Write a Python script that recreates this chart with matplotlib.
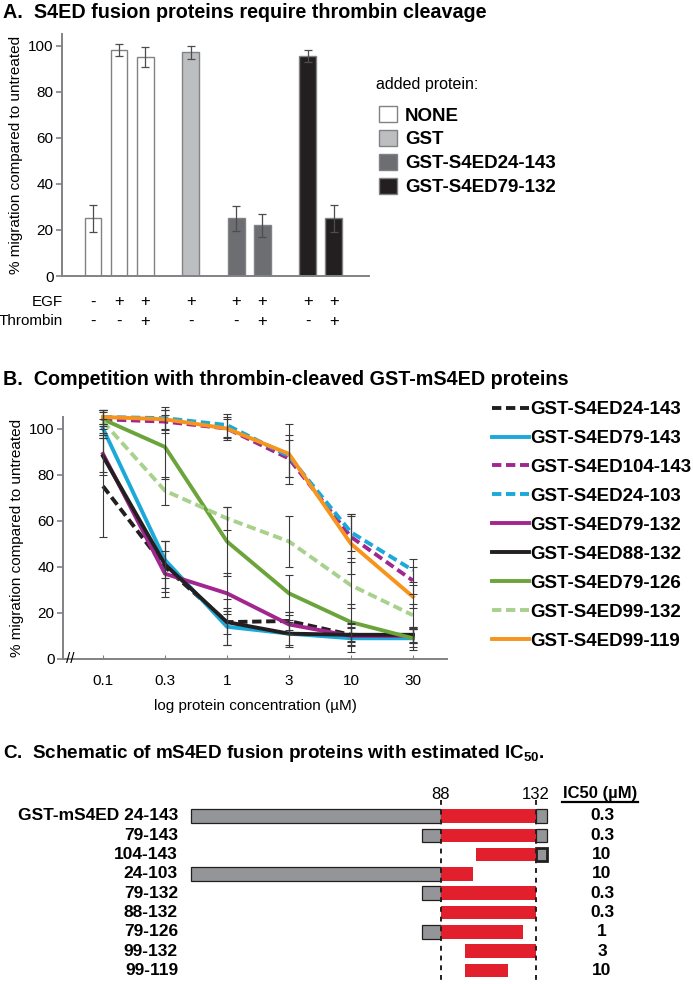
import matplotlib.pyplot as plt
import numpy as np
from matplotlib.patches import Patch
from matplotlib.transforms import blended_transform_factory

plt.rcParams['font.family'] = ['Liberation Sans', 'DejaVu Sans']
plt.rcParams['mathtext.fontset'] = 'custom'
plt.rcParams['mathtext.rm'] = 'Liberation Sans'
plt.rcParams['mathtext.bf'] = 'Liberation Sans:bold'

# ---- panel A data ----
a_values = [25, 98, 95, 97, 25, 22, 95.5, 25]
a_errors = [6, 2.5, 4.5, 3, 5.5, 5, 2.5, 6]
a_groups = ['NONE', 'NONE', 'NONE', 'GST', 'GST-S4ED24-143', 'GST-S4ED24-143',
            'GST-S4ED79-132', 'GST-S4ED79-132']
a_egf = ['-', '+', '+', '+', '+', '+', '+', '+']
a_thrombin = ['-', '-', '+', '-', '-', '+', '-', '+']
a_proteins = ['NONE', 'GST', 'GST-S4ED24-143', 'GST-S4ED79-132']
a_colors = ['white', '#bcbec0', '#6d6e71', '#231f20']

# ---- panel B data ----
conc_labels = ['0.1', '0.3', '1', '3', '10', '30']
b_names = ['GST-S4ED24-143', 'GST-S4ED79-143', 'GST-S4ED104-143', 'GST-S4ED24-103',
           'GST-S4ED79-132', 'GST-S4ED88-132', 'GST-S4ED79-126', 'GST-S4ED99-132',
           'GST-S4ED99-119']
b_values = [
    [75, 40, 16, 16.5, 10.5, 10],
    [100, 43, 14, 11, 9, 9],
    [104, 103, 100, 87, 53, 34],
    [105, 104.5, 101.5, 88, 55, 38.5],
    [89, 37, 28.5, 15, 10, 10],
    [88, 41, 16, 11, 10.5, 10.5],
    [104, 92, 51, 28.5, 16, 9],
    [103, 73, 61, 51, 32, 19],
    [105, 104, 100, 89, 50, 27],
]
b_errors = [
    [22, 11, 5, 4, 3, 3],
    [4, 8, 8, 6, 6, 4],
    [3, 5, 4, 8, 9, 6],
    [3, 5, 5, 9, 8, 5],
    [8, 10, 9, 4, 4, 3],
    [8, 10, 10, 5, 5, 3],
    [4, 14, 15, 8, 8, 5],
    [5, 6, 5, 11, 10, 5],
    [3, 4, 5, 13, 13, 5],
]
b_colors = ['#231f20', '#1ba9d9', '#a1278f', '#1ba9d9', '#a1278f', '#231f20',
            '#6ba43a', '#a9d18e', '#f7941d']
b_dashed = [True, False, True, True, False, False, False, True, False]

# ---- panel C data ----
c_labels = ['GST-mS4ED 24-143', '79-143', '104-143', '24-103', '79-132',
            '88-132', '79-126', '99-132', '99-119']
c_start = [24, 79, 104, 24, 79, 88, 79, 99, 99]
c_end = [143, 143, 143, 103, 132, 132, 126, 132, 119]
c_ic50 = ['0.3', '0.3', '10', '10', '0.3', '0.3', '1', '3', '10']
core = (88, 132)

W, H = 693, 984
fig = plt.figure(figsize=(W / 100, H / 100), dpi=100)


def px_axes(x0, y0, x1, y1):
    return fig.add_axes([x0 / W, 1 - y1 / H, (x1 - x0) / W, (y1 - y0) / H])


def style_axes(ax):
    for s in ['top', 'right']:
        ax.spines[s].set_visible(False)
    for s in ['left', 'bottom']:
        ax.spines[s].set_color('#808285')
        ax.spines[s].set_linewidth(1.4)
    ax.tick_params(axis='y', colors='#808285', labelcolor='black', labelsize=11,
                   length=4, width=1.2, pad=2)


# ================= panel A =================
fig.text(3 / W, 1 - 13 / H, 'A.  S4ED fusion proteins require thrombin cleavage',
         fontsize=14.2, weight='bold', va='center')
axA = px_axes(62, 34, 369, 276)
pos = []
x = 0.0
for i, g in enumerate(a_groups):
    if i > 0:
        x += 1 if g == a_groups[i - 1] else 1.75
    pos.append(x)
bar_colors = [a_colors[a_proteins.index(g)] for g in a_groups]
axA.bar(pos, a_values, width=0.65, color=bar_colors, edgecolor='#808285', linewidth=1,
        yerr=a_errors, error_kw=dict(ecolor='#4d4d4f', elinewidth=0.9, capsize=3, capthick=0.9))
axA.set_xlim(-1.19, 10.6)
axA.set_ylim(0, 105)
axA.set_yticks([0, 20, 40, 60, 80, 100])
axA.set_xticks([])
style_axes(axA)
axA.set_ylabel('% migration compared to untreated', fontsize=11, labelpad=4)
tr = blended_transform_factory(axA.transData, axA.transAxes)
for p, e, t in zip(pos, a_egf, a_thrombin):
    axA.text(p, -0.107, e, transform=tr, ha='center', va='center', fontsize=12)
    axA.text(p, -0.186, t, transform=tr, ha='center', va='center', fontsize=12)
axA.text(0.003, -0.107, 'EGF', transform=axA.transAxes, ha='right', va='center', fontsize=11)
axA.text(0.003, -0.186, 'Thrombin', transform=axA.transAxes, ha='right', va='center', fontsize=11)
fig.text(376 / W, 1 - 85 / H, 'added protein:', fontsize=11.5, va='center')
handles = [Patch(facecolor=c, edgecolor='#808285') for c in a_colors]
axA.legend(handles, a_proteins, loc='upper left',
           bbox_to_anchor=(379 / W, 1 - 106 / H), bbox_transform=fig.transFigure,
           frameon=False, prop=dict(weight='bold', size=13.5),
           handlelength=0.96, handleheight=0.96, handletextpad=0.43,
           labelspacing=0.28, borderaxespad=0, borderpad=0)

# ================= panel B =================
fig.text(3 / W, 1 - 379 / H, 'B.  Competition with thrombin-cleaved GST-mS4ED proteins',
         fontsize=14.2, weight='bold', va='center')
axB = px_axes(63, 417, 447, 659)
xb = np.arange(len(conc_labels))
for name, vals, errs, c, d in zip(b_names, b_values, b_errors, b_colors, b_dashed):
    axB.errorbar(xb, vals, yerr=errs, fmt='none', ecolor='#3a3a3a', elinewidth=0.8,
                 capsize=3, capthick=0.8, zorder=3, clip_on=False)
    axB.plot(xb, vals, color=c, lw=2.8, linestyle=(0, (2.4, 1.2)) if d else '-',
             label=name, zorder=2, clip_on=False)
axB.set_xlim(-0.645, 5.55)
axB.set_ylim(0, 105)
axB.set_yticks([0, 20, 40, 60, 80, 100])
axB.set_xticks(xb)
axB.set_xticklabels(conc_labels)
style_axes(axB)
axB.tick_params(axis='x', direction='in', length=3, colors='#808285', labelcolor='black',
                labelsize=11, pad=11)
axB.set_xlabel('log protein concentration (\u00b5M)', fontsize=11, labelpad=8)
axB.set_ylabel('% migration compared to untreated', fontsize=11, labelpad=4)
axB.text(-0.52, 0, '//', ha='center', va='center', fontsize=11, clip_on=False)
axB.legend(loc='upper left', bbox_to_anchor=(492 / W, 1 - 401 / H),
           bbox_transform=fig.transFigure, frameon=False,
           prop=dict(weight='bold', size=13.5), handlelength=1.97, handletextpad=0.05,
           labelspacing=0.63, borderaxespad=0, borderpad=0)

# ================= panel C =================
fig.text(3 / W, 1 - 753 / H, r'C.  Schematic of mS4ED fusion proteins with estimated IC$_{\mathbf{50}}$.',
         fontsize=13.6, weight='bold', va='center')
axC = px_axes(0, 760, 693, 984)
axC.axis('off')
axC.set_xlim(-116.2, 204.7)
axC.set_ylim(8.7, -2.9)


def sx(r):
    # schematic scale: stretched N-term, compressed C-term
    r = np.asarray(r, dtype=float)
    return np.where(r < 79, 79 - (79 - r) * 1.94, np.where(r > 132, 132 + (r - 132) * 0.46, r))


bh = 0.7
for i, (s, e) in enumerate(zip(c_start, c_end)):
    thick = 2.0 if s > core[0] and e > core[1] else 0.9
    if s < core[0]:
        axC.barh(i, sx(core[0]) - sx(s), left=sx(s), height=bh, color='#939598',
                 edgecolor='#231f20', linewidth=0.9)
    if e > core[1]:
        axC.barh(i, sx(e) - sx(core[1]), left=sx(core[1]), height=bh, color='#939598',
                 edgecolor='#231f20', linewidth=thick)
    rs, re = max(s, core[0]), min(e, core[1])
    axC.barh(i, sx(re) - sx(rs), left=sx(rs), height=bh, color='#e21f2c', linewidth=0)
for r in core:
    axC.plot([sx(r), sx(r)], [-0.85, 8.7], color='#231f20', lw=1.4,
             linestyle=(0, (2.5, 2.5)), zorder=5)
    axC.text(sx(r), -1.12, str(r), ha='center', va='center', fontsize=12)
trC = blended_transform_factory(axC.transAxes, axC.transData)
for i, (lab, v) in enumerate(zip(c_labels, c_ic50)):
    axC.text(178 / W, i, lab, transform=trC, ha='right', va='center', fontsize=12.5, weight='bold')
    axC.text(602 / W, i, v, transform=trC, ha='center', va='center', fontsize=12.5, weight='bold')
axC.text(600 / W, -1.19, 'IC50 (\u00b5M)', transform=trC, ha='center', va='center',
         fontsize=12, weight='bold')
axC.plot([562 / W, 638 / W], [-0.72, -0.72], transform=trC, color='black', lw=1.6)

fig.savefig('out.png', dpi=100)
